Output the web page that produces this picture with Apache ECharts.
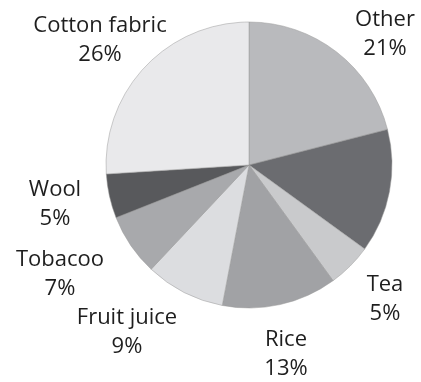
<!DOCTYPE html>
<html>
<head>
<meta charset="utf-8">
<script src="https://cdn.jsdelivr.net/npm/echarts@6/dist/echarts.min.js"></script>
<style>html,body{margin:0;padding:0;background:#fff;}#c{width:421px;height:382px;}</style>
</head>
<body>
<div id="c"></div>
<script>
const categories = ['Other', '', 'Tea', 'Rice', 'Fruit juice', 'Tobacoo', 'Wool', 'Cotton fabric'];
const values = [21, 14, 5, 13, 9, 7, 5, 26];
const colors = ['#b9babd', '#6b6c70', '#c9cacc', '#a1a2a5', '#dcdde0', '#a8a9ac', '#58595c', '#e9e9eb'];

// label box centres (layout only)
const labelPos = [[385, 34], null, [385, 299], [286, 354], [127, 332], [60, 274], [55, 204], [100, 40]];

const chart = echarts.init(document.getElementById('c'), null, {renderer: 'canvas'});
chart.setOption({
  animation: false,
  series: [{
    type: 'pie',
    center: [249, 165],
    radius: 143,
    startAngle: 90,
    clockwise: true,
    avoidLabelOverlap: false,
    itemStyle: {borderColor: '#9a9a9a', borderWidth: 0.5},
    label: {
      show: true,
      position: 'outside',
      formatter: p => p.name + '\n' + p.value + '%',
      fontFamily: 'Open Sans',
      fontSize: 22,
      lineHeight: 29,
      color: '#1e1e1e',
      align: 'center',
      overflow: 'none',
      width: 200
    },
    labelLine: {show: false},
    labelLayout: function (p) {
      const pos = labelPos[p.dataIndex];
      if (!pos) return {};
      return {x: pos[0], y: pos[1], align: 'center', verticalAlign: 'middle'};
    },
    data: categories.map((n, i) => ({
      name: n,
      value: values[i],
      itemStyle: {color: colors[i]},
      label: {show: n !== ''}
    }))
  }]
});
</script>
</body>
</html>
